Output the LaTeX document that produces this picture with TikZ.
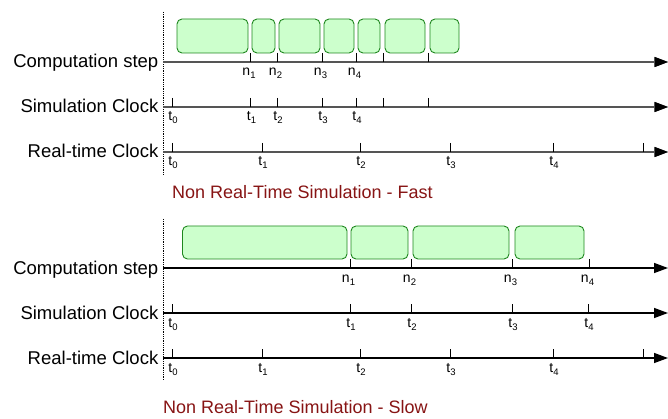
\documentclass[tikz,border=0pt]{standalone}
\usepackage{fontspec}
\setmainfont{Liberation Sans}
\usetikzlibrary{arrows.meta}
\definecolor{boxfill}{RGB}{204,255,204}
\definecolor{boxline}{RGB}{30,135,30}
\definecolor{capred}{RGB}{135,20,20}
\definecolor{axgrey}{RGB}{85,85,85}
\tikzset{
  axisline/.style={line width=1.4pt,-{Triangle[length=14pt,width=10pt]}},
  tickmark/.style={line width=0.9pt,black},
  stepbox/.style={draw=boxline,fill=boxfill,line width=0.9pt,rounded corners=5pt},
  axlabel/.style={anchor=base east,inner sep=0pt,font=\fontsize{18.5}{20}\selectfont},
  ticklabel/.style={anchor=base,inner sep=0pt,font=\fontsize{14}{15}\selectfont},
  caption/.style={anchor=base west,inner sep=0pt,text=capred,font=\fontsize{18}{20}\selectfont},
  guide/.style={densely dotted,line width=0.8pt}
}
\newcommand{\lbl}[2]{#1\raisebox{-3pt}{\fontsize{9.5}{10}\selectfont #2}}
\begin{document}
\begin{tikzpicture}[x=1pt,y=-1pt]
\useasboundingbox (0,0) rectangle (668,419);

% ================= TOP: Fast =================
\coordinate (gt1) at (163,12);
\coordinate (gt2) at (163,175);
\draw[guide] (gt1) -- (gt2);

% axes
\coordinate (ca0) at (163,62);  \coordinate (ca1) at (668,62);
\coordinate (sa0) at (163,107); \coordinate (sa1) at (668,107);
\coordinate (ra0) at (163,152); \coordinate (ra1) at (668,152);
\draw[axisline,axgrey] (ca0) -- (ca1);
\draw[axisline,axgrey] (sa0) -- (sa1);
\draw[axisline,axgrey] (ra0) -- (ra1);
\fill (655,57) -- (668,62) -- (655,67) -- cycle;
\fill (655,102) -- (668,107) -- (655,112) -- cycle;
\fill (655,147) -- (668,152) -- (655,157) -- cycle;

\node[axlabel] (cl) at (158.5,68) {Computation step};
\node[axlabel] (sl) at (158.5,113) {Simulation Clock};
\node[axlabel] (rl) at (158.5,158) {Real-time Clock};

% boxes
\foreach \a/\b [count=\i] in {177/248,252/275,279/320,324/354,358/380,385/425,430/459}{
  \draw[stepbox] (\a,19) rectangle (\b,53);
}
% computation ticks
\foreach \x in {250.5,277,322,356,383,428}{
  \draw[tickmark] (\x,53) -- (\x,62);
}
\foreach \x/\n in {250.5/1,277/2,322/3,356/4}{
  \node[ticklabel] (tn\n) at (\x-1.5,76) {\lbl{n}{\n}};
}
% simulation ticks
\foreach \x in {172,250.5,277,322,356,383,428}{
  \draw[tickmark] (\x,98) -- (\x,107);
}
\foreach \x/\n in {172/0,250.5/1,277/2,322/3,356/4}{
  \node[ticklabel] (ts\n) at (\x+1,121) {\lbl{t}{\n}};
}
% real-time ticks
\foreach \x in {172,262,360,450,553,643}{
  \draw[tickmark] (\x,143) -- (\x,152);
}
\foreach \x/\n in {172/0,262/1,360/2,450/3,553/4}{
  \node[ticklabel] (tr\n) at (\x+1,166) {\lbl{t}{\n}};
}
\node[caption] (cap1) at (172,198.5) {Non Real-Time Simulation - Fast};

% ================= BOTTOM: Slow =================
\coordinate (gb1) at (163,219);
\coordinate (gb2) at (163,380);
\draw[guide] (gb1) -- (gb2);

\coordinate (cb0) at (163,268); \coordinate (cb1) at (668,268);
\coordinate (sb0) at (163,313); \coordinate (sb1) at (668,313);
\coordinate (rb0) at (163,358); \coordinate (rb1) at (668,358);
\draw[axisline,black] (cb0) -- (cb1);
\draw[axisline,black] (sb0) -- (sb1);
\draw[axisline,black] (rb0) -- (rb1);

\node[axlabel] (cl2) at (158.5,274) {Computation step};
\node[axlabel] (sl2) at (158.5,319) {Simulation Clock};
\node[axlabel] (rl2) at (158.5,364) {Real-time Clock};

\foreach \a/\b in {182.5/347,351/408,413/509,515/584}{
  \draw[stepbox] (\a,226) rectangle (\b,259);
}
\foreach \x in {350,411,512,589}{
  \draw[tickmark] (\x,259) -- (\x,268);
}
\foreach \x/\n in {350/1,411/2,512/3,589/4}{
  \node[ticklabel] (bn\n) at (\x-1.5,282) {\lbl{n}{\n}};
}
\foreach \x in {172,350,411,512,588}{
  \draw[tickmark] (\x,304) -- (\x,313);
}
\foreach \x/\n in {172/0,350/1,411/2,512/3,588/4}{
  \node[ticklabel] (bs\n) at (\x+1,327) {\lbl{t}{\n}};
}
\foreach \x in {172,262,360,450,553,643}{
  \draw[tickmark] (\x,349) -- (\x,358);
}
\foreach \x/\n in {172/0,262/1,360/2,450/3,553/4}{
  \node[ticklabel] (br\n) at (\x+1,372) {\lbl{t}{\n}};
}
\node[caption] (cap2) at (163,413) {Non Real-Time Simulation - Slow};
\end{tikzpicture}
\end{document}
